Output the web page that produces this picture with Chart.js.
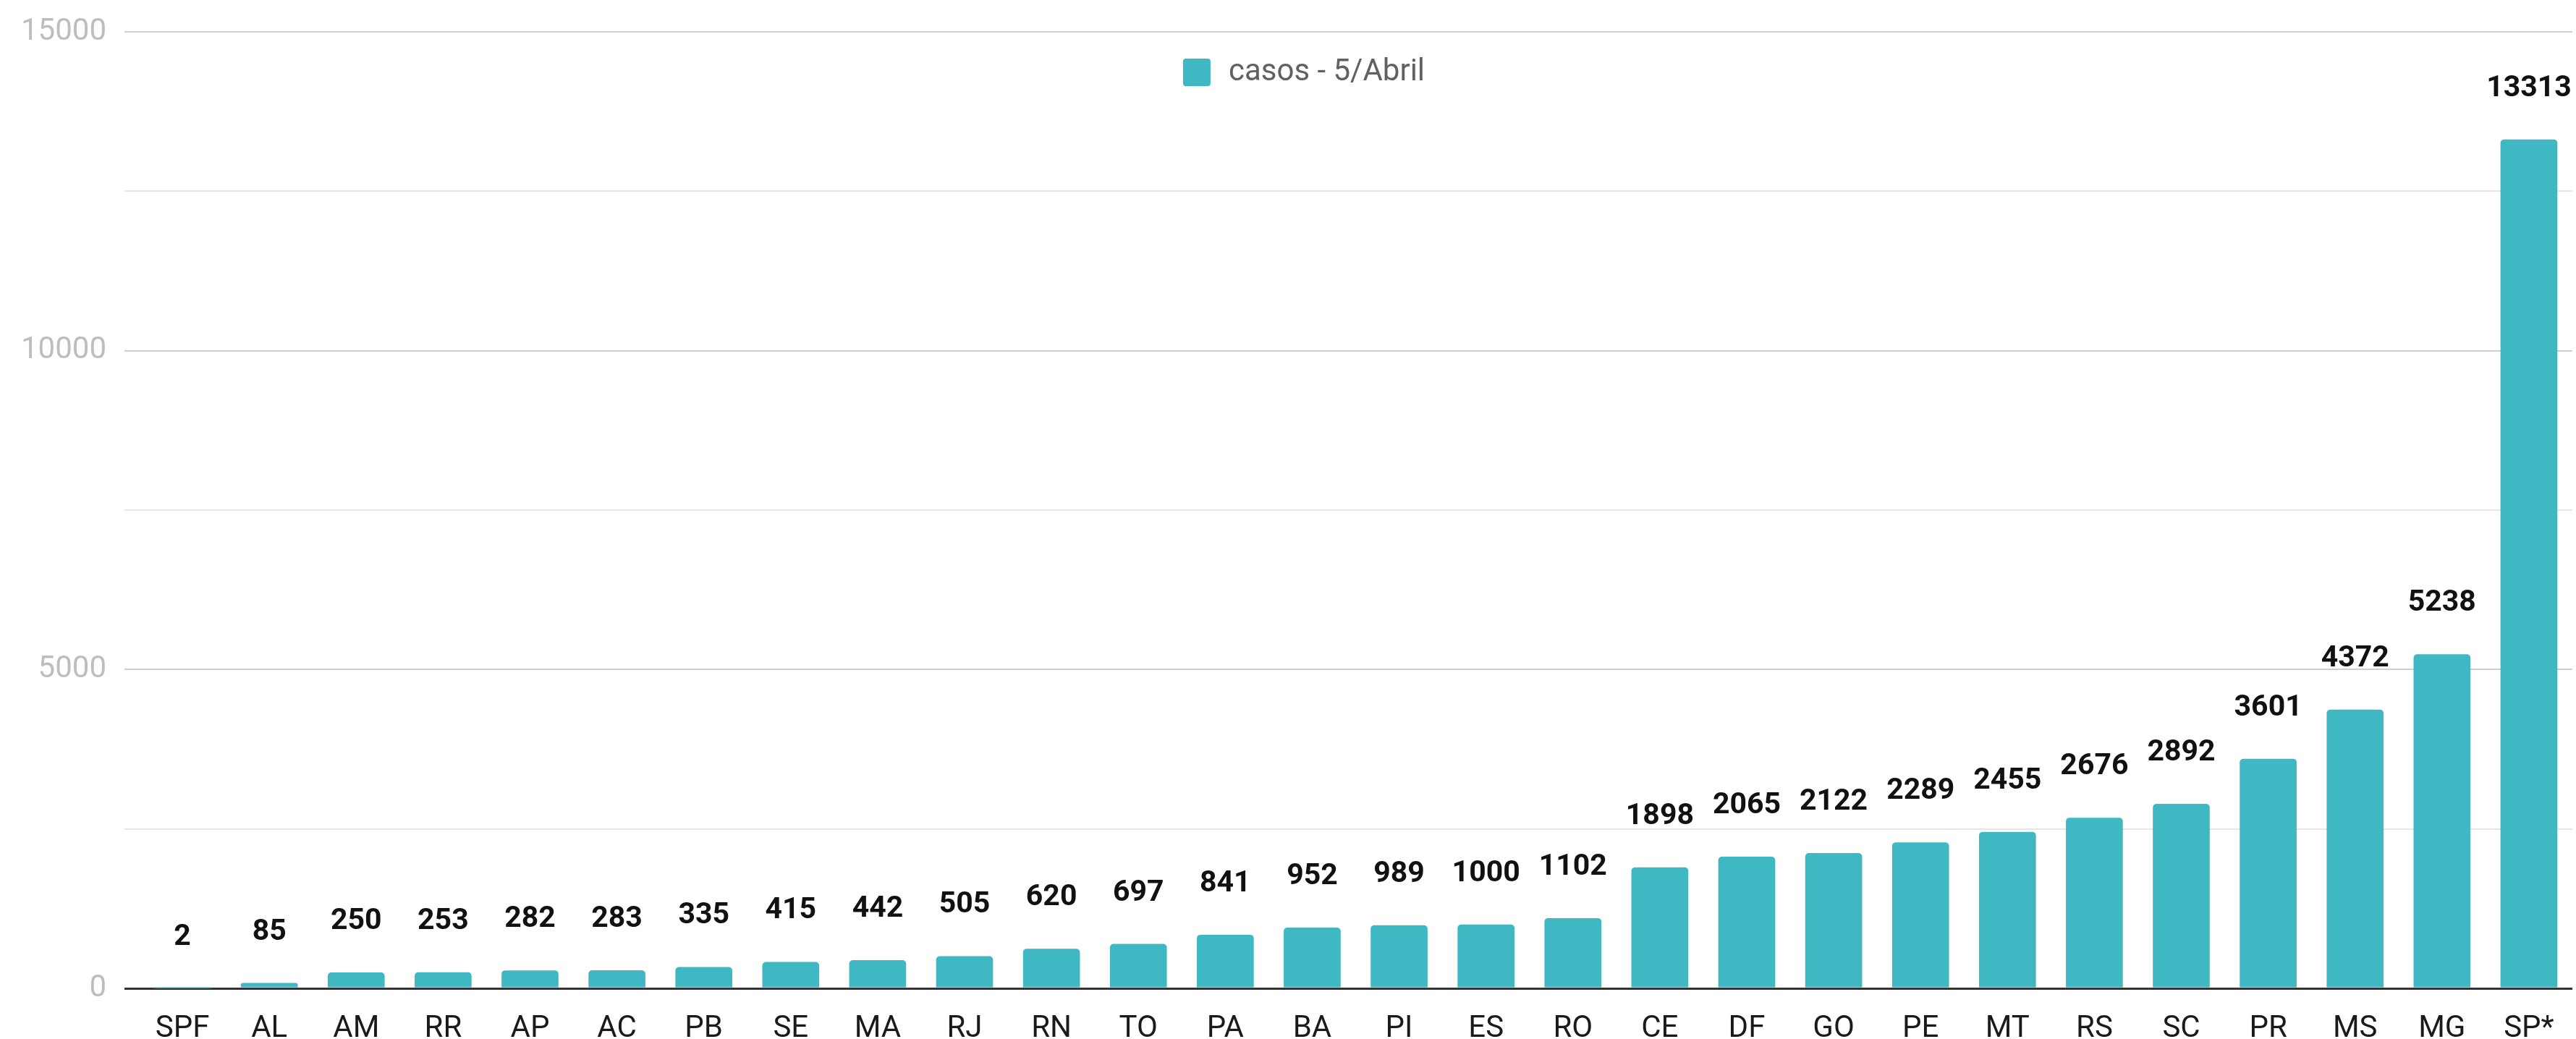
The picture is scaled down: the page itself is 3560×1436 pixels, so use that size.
<!DOCTYPE html>
<html>
<head>
<meta charset="utf-8">
<script src="https://cdn.jsdelivr.net/npm/chart.js@4.4.1/dist/chart.umd.min.js"></script>
<style>
    html, body { margin: 0; padding: 0; background: #fff; }
    #wrap { width: 3560px; height: 1436px; }
</style>
</head>
<body>
<div id="wrap"><canvas id="chart" width="3560" height="1436"></canvas></div>
<script>
// states, sorted by confirmed cases
const states = ['SPF', 'AL', 'AM', 'RR', 'AP', 'AC', 'PB', 'SE', 'MA', 'RJ', 'RN', 'TO', 'PA', 'BA',
    'PI', 'ES', 'RO', 'CE', 'DF', 'GO', 'PE', 'MT', 'RS', 'SC', 'PR', 'MS', 'MG', 'SP*'];
const casos = [2, 85, 250, 253, 282, 283, 335, 415, 442, 505, 620, 697, 841, 952,
    989, 1000, 1102, 1898, 2065, 2122, 2289, 2455, 2676, 2892, 3601, 4372, 5238, 13313];
const seriesLabel = 'casos - 5/Abril';
const yTicks = [0, 5000, 10000, 15000];

const barColor = '#40b8c4';

// value labels above each bar
const valueLabels = {
    id: 'valueLabels',
    afterDatasetsDraw(chart) {
        const ctx = chart.ctx;
        const meta = chart.getDatasetMeta(0);
        ctx.save();
        ctx.font = 'bold 41px Roboto';
        ctx.fillStyle = '#111';
        ctx.textAlign = 'center';
        ctx.textBaseline = 'alphabetic';
        meta.data.forEach((bar, i) => {
            ctx.fillText(String(casos[i]), bar.x, bar.y - 60);
        });
        ctx.restore();
    }
};

// legend drawn inside the plot, centred at the top
const topLegend = {
    id: 'topLegend',
    afterDraw(chart) {
        const ctx = chart.ctx;
        const ds = chart.data.datasets[0];
        ctx.save();
        ctx.font = '42px Roboto';
        const tw = ctx.measureText(ds.label).width;
        const box = 38, gap = 25;
        const total = box + gap + tw;
        const x0 = (chart.width - total) / 2 + 22;
        const cy = 100;
        ctx.fillStyle = ds.backgroundColor;
        ctx.beginPath();
        ctx.roundRect(x0, cy - box / 2, box, box, 4);
        ctx.fill();
        ctx.fillStyle = '#616161';
        ctx.textAlign = 'left';
        ctx.textBaseline = 'middle';
        ctx.fillText(ds.label, x0 + box + gap, cy);
        ctx.restore();
    }
};

const ctx = document.getElementById('chart').getContext('2d');
new Chart(ctx, {
    type: 'bar',
    data: {
        labels: states,
        datasets: [{
            label: seriesLabel,
            data: casos,
            backgroundColor: barColor,
            borderRadius: 5,
            categoryPercentage: 1,
            barPercentage: 0.655
        }]
    },
    options: {
        responsive: false,
        animation: false,
        events: [],
        layout: { padding: { top: 44, right: 5, left: 0, bottom: 0 } },
        plugins: {
            legend: { display: false },
            tooltip: { enabled: false }
        },
        scales: {
            x: {
                grid: { display: false, drawTicks: false },
                border: { display: false },
                // fixed axis sizes so the plot area lines up with the original
                afterFit: s => { s.height = 70; s.paddingLeft = 0; s.paddingRight = 0; },
                ticks: {
                    color: '#1a1a1a',
                    font: { family: 'Roboto', size: 42, lineHeight: 1 },
                    padding: 35,
                    maxRotation: 0,
                    autoSkip: false
                }
            },
            y: {
                min: 0,
                max: 15000,
                border: { display: false },
                afterFit: s => { s.width = 192; s.paddingTop = 0; s.paddingBottom = 0; },
                grid: {
                    tickLength: 20,
                    lineWidth: c => c.tick && c.tick.value === 0 ? 3 : 2,
                    color: c => {
                        const v = c.tick ? c.tick.value : 0;
                        if (v === 0) return '#333333';
                        return yTicks.includes(v) ? '#cfcfcf' : '#e6e6e6';
                    }
                },
                ticks: {
                    stepSize: 2500,
                    color: '#bdbdbd',
                    font: { family: 'Roboto', size: 42 },
                    padding: 25,
                    callback: v => yTicks.includes(v) ? String(v) : ''
                }
            }
        }
    },
    plugins: [valueLabels, topLegend]
});
</script>
</body>
</html>
